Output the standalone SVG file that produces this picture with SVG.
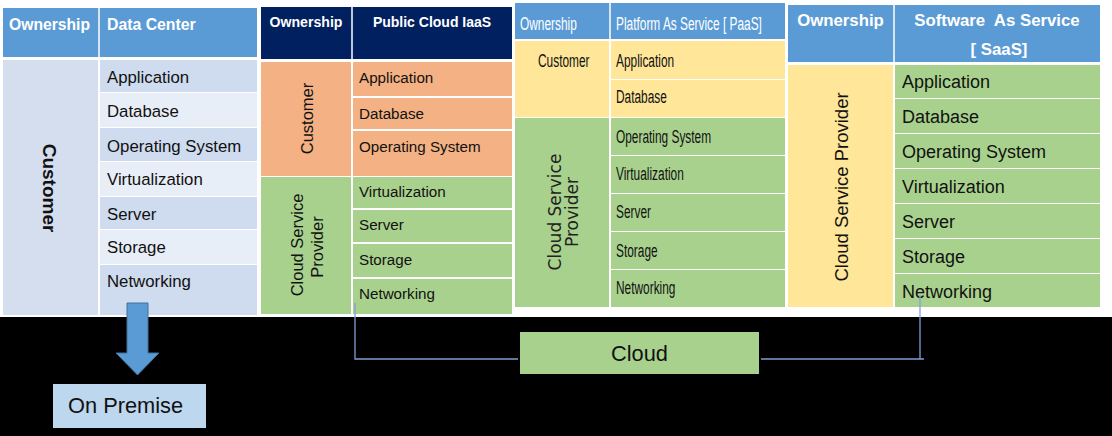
<svg xmlns="http://www.w3.org/2000/svg" width="1112" height="436" viewBox="0 0 1112 436">
<style>
.t{font-family:"Liberation Sans",Arial,sans-serif;fill:#111}
.h{font-family:"Liberation Sans",Arial,sans-serif;fill:#fff;font-weight:bold}
.hn{font-family:"Liberation Sans",Arial,sans-serif;fill:#fff;font-size:18px}
.t1{font-size:16.8px}
.t2{font-size:15.2px}
.t3{font-size:18px}
.t4{font-size:18px}
.sep{stroke:#fff;stroke-width:1.5}
.conn{stroke:#7F9FD3;stroke-width:1.3;fill:none}
.dk{fill:#CFDBEE}
.lt{fill:#E8EEF7}
.or{fill:#F4B183}
.gr{fill:#A9D18E}
.ye{fill:#FFE699}
.bl{fill:#5B9BD5}
</style>
<rect x="0" y="0" width="1112" height="317" fill="#fff"/>
<rect x="0" y="317" width="1112" height="119" fill="#000"/>

<g id="datacenter">
<rect class="bl" x="3" y="8" width="254" height="49"/>
<line class="sep" x1="99" y1="8" x2="99" y2="57"/>
<text class="h" x="9" y="30" font-size="15.7">Ownership</text>
<text class="h" x="107" y="30" font-size="15.8">Data Center</text>
<rect x="3" y="60" width="95" height="255" fill="#D4DEEF"/>
<rect class="dk" x="100" y="60" width="157" height="32"/>
<rect class="lt" x="100" y="93" width="157" height="34"/>
<rect class="dk" x="100" y="128" width="157" height="33"/>
<rect class="lt" x="100" y="162" width="157" height="34"/>
<rect class="dk" x="100" y="197" width="157" height="32"/>
<rect class="lt" x="100" y="230" width="157" height="34"/>
<rect class="dk" x="100" y="265" width="157" height="50"/>
<text class="t t1" x="107" y="83">Application</text>
<text class="t t1" x="107" y="117">Database</text>
<text class="t t1" x="107" y="152">Operating System</text>
<text class="t t1" x="107" y="185">Virtualization</text>
<text class="t t1" x="107" y="220">Server</text>
<text class="t t1" x="107" y="253">Storage</text>
<text class="t t1" x="107" y="287">Networking</text>
<text class="t" font-weight="bold" font-size="19" text-anchor="middle" transform="translate(43,188) rotate(90)">Customer</text>
</g>

<g id="iaas">
<rect x="261" y="7" width="251" height="52" fill="#002060"/>
<line class="sep" x1="352" y1="7" x2="352" y2="59"/>
<text class="h" x="306" y="27" font-size="14.1" text-anchor="middle">Ownership</text>
<text class="h" x="432" y="27" font-size="14" text-anchor="middle">Public Cloud IaaS</text>
<rect class="or" x="261" y="62" width="90" height="114"/>
<rect class="gr" x="261" y="177" width="90" height="137"/>
<rect class="or" x="353" y="62" width="159" height="34"/>
<rect class="or" x="353" y="98" width="159" height="31"/>
<rect class="or" x="353" y="131" width="159" height="45"/>
<rect class="gr" x="353" y="177" width="159" height="31"/>
<rect class="gr" x="353" y="210" width="159" height="32"/>
<rect class="gr" x="353" y="244" width="159" height="33"/>
<rect class="gr" x="353" y="279" width="159" height="35"/>
<text class="t t2" x="359" y="83">Application</text>
<text class="t t2" x="359" y="119">Database</text>
<text class="t t2" x="359" y="152">Operating System</text>
<text class="t t2" x="359" y="197">Virtualization</text>
<text class="t t2" x="359" y="230">Server</text>
<text class="t t2" x="359" y="265">Storage</text>
<text class="t t2" x="359" y="299">Networking</text>
<text class="t" font-size="16.5" text-anchor="middle" transform="translate(313,118.5) rotate(-90)">Customer</text>
<text class="t" font-size="16.5" text-anchor="middle" transform="translate(303,245) rotate(-90)">Cloud Service</text>
<text class="t" font-size="16.5" text-anchor="middle" transform="translate(323,247) rotate(-90)">Provider</text>
</g>

<g id="paas">
<rect class="bl" x="515" y="3" width="270" height="36"/>
<line class="sep" x1="610" y1="3" x2="610" y2="39"/>
<text class="hn" transform="translate(520,30) scale(0.66,1)">Ownership</text>
<text class="hn" transform="translate(616,30) scale(0.66,1)">Platform As Service [ PaaS]</text>
<rect class="ye" x="515" y="41" width="94" height="76"/>
<rect class="gr" x="515" y="118" width="94" height="189"/>
<rect class="ye" x="611" y="41" width="174" height="38"/>
<rect class="ye" x="611" y="80" width="174" height="37"/>
<rect class="gr" x="611" y="118" width="174" height="37"/>
<rect class="gr" x="611" y="156" width="174" height="37"/>
<rect class="gr" x="611" y="194" width="174" height="37"/>
<rect class="gr" x="611" y="232" width="174" height="37"/>
<rect class="gr" x="611" y="270" width="174" height="37"/>
<text class="t t3" transform="translate(538,67) scale(0.66,1)">Customer</text>
<text class="t t3" transform="translate(616,67) scale(0.66,1)">Application</text>
<text class="t t3" transform="translate(616,103) scale(0.66,1)">Database</text>
<text class="t t3" transform="translate(616,143) scale(0.66,1)">Operating System</text>
<text class="t t3" transform="translate(616,180) scale(0.66,1)">Virtualization</text>
<text class="t t3" transform="translate(616,218) scale(0.66,1)">Server</text>
<text class="t t3" transform="translate(616,257) scale(0.66,1)">Storage</text>
<text class="t t3" transform="translate(616,294) scale(0.66,1)">Networking</text>
<text font-family="DejaVu Sans, sans-serif" fill="#222" font-size="17" text-anchor="middle" transform="translate(561,212) rotate(-90)">Cloud Service</text>
<text font-family="DejaVu Sans, sans-serif" fill="#222" font-size="17" text-anchor="middle" transform="translate(578,212) rotate(-90)">Provider</text>
</g>

<g id="saas">
<rect class="bl" x="788" y="5" width="312" height="57"/>
<line class="sep" x1="894" y1="5" x2="894" y2="62"/>
<text class="h" x="840.5" y="26" font-size="16.8" text-anchor="middle">Ownership</text>
<text class="h" x="997" y="26" font-size="16.8" text-anchor="middle" xml:space="preserve">Software  As Service</text>
<text class="h" x="999" y="55" font-size="16.8" text-anchor="middle">[ SaaS]</text>
<rect class="ye" x="788" y="65" width="105" height="242"/>
<rect class="gr" x="895" y="65" width="205" height="33"/>
<rect class="gr" x="895" y="99" width="205" height="34"/>
<rect class="gr" x="895" y="134" width="205" height="34"/>
<rect class="gr" x="895" y="169" width="205" height="34"/>
<rect class="gr" x="895" y="204" width="205" height="34"/>
<rect class="gr" x="895" y="239" width="205" height="34"/>
<rect class="gr" x="895" y="274" width="205" height="33"/>
<text class="t t4" x="902" y="88">Application</text>
<text class="t t4" x="902" y="123">Database</text>
<text class="t t4" x="902" y="158">Operating System</text>
<text class="t t4" x="902" y="193">Virtualization</text>
<text class="t t4" x="902" y="228">Server</text>
<text class="t t4" x="902" y="263">Storage</text>
<text class="t t4" x="902" y="298">Networking</text>
<text class="t" font-size="18.5" text-anchor="middle" transform="translate(848,187) rotate(-90)">Cloud Service Provider</text>
</g>

<g id="onpremise">
<rect x="53" y="384" width="153" height="44" fill="#BDD7EE"/>
<text class="t" x="68" y="413" font-size="21.8">On Premise</text>
</g>

<g id="cloud">
<rect class="gr" x="520" y="332" width="239" height="42"/>
<text class="t" x="639.5" y="361" font-size="21.8" text-anchor="middle">Cloud</text>
</g>

<g id="connectors">
<polygon points="127,303 148,303 148,353 159,353 137.5,375 116,353 127,353" fill="#5B9BD5" stroke="#41719C" stroke-width="1"/>
<path class="conn" d="M355,303 V359 H518"/>
<path class="conn" d="M920,295 V359 M761,359 H924"/>
</g>
</svg>
